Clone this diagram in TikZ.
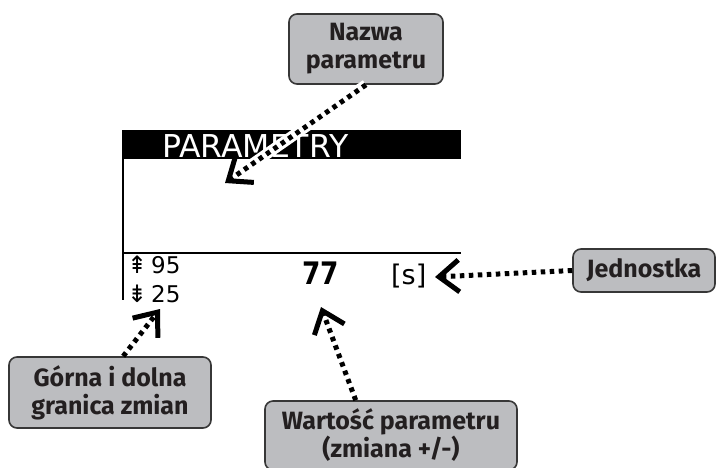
\documentclass[tikz,border=0pt]{standalone}
\usepackage{fontspec}
\setmainfont{Fira Sans}
\newfontfamily\lcdfont{DejaVu Sans}
\usetikzlibrary{arrows.meta}
\definecolor{boxgray}{RGB}{188,189,192}
\definecolor{boxline}{RGB}{55,55,55}
\definecolor{labeltext}{RGB}{35,31,32}

\begin{document}
\begin{tikzpicture}[x=1pt, y=-1pt,
 callout/.style={draw=boxline, fill=boxgray, line width=1.6pt, rounded corners=8pt,
  align=center, text=labeltext, inner sep=0pt, font=\fontsize{25}{28}\selectfont\bfseries},
 pointer/.style={line width=5pt, dash pattern=on 4.5pt off 4.5pt,
  -{Straight Barb[length=20pt, width=32pt, line width=5pt]}},
 halo/.style={preaction={draw=white, line width=11pt, solid, -}}] % ekran + opisy

\useasboundingbox (0,0) rectangle (725,467);
\clip (0,0) rectangle (725,467);

% ekran
\fill[black] (122,130) rectangle (461,159);
\draw[line width=2pt] (123,130) -- (123,300);
\draw[line width=2pt] (122,253) -- (461,253);
\node[anchor=base west, text=white, inner sep=0pt, font=\lcdfont\fontsize{31.5}{31.5}\selectfont]
 (title) at (162,157) {PARAMETRY};
\node[anchor=base west, inner sep=0pt, font=\lcdfont\fontsize{23}{23}\selectfont]
 (upper) at (127,273) {{\fontsize{24}{24}\selectfont ⇞}\,95};
\node[anchor=base west, inner sep=0pt, font=\lcdfont\fontsize{23}{23}\selectfont]
 (lower) at (127,302) {{\fontsize{24}{24}\selectfont ⇟}\,25};
\node[anchor=base west, inner sep=0pt, font=\lcdfont\fontsize{31}{31}\selectfont\bfseries]
 (val) at (302,284) {\scalebox{0.85}[1]{77}};
\node[anchor=base west, inner sep=0pt, font=\lcdfont\fontsize{27}{27}\selectfont]
 (unit) at (391,284) {[s]};

% opisy
\node[callout, minimum width=154pt, minimum height=70pt] (name) at (366,49) {Nazwa\\parametru};
\node[callout, minimum width=142pt, minimum height=43pt] (jedn) at (644,270.5) {Jednostka};
\node[callout, minimum width=202pt, minimum height=71pt] (limits) at (110,392.5) {Górna i dolna\\granica zmian};
\node[callout, minimum width=252pt, minimum height=69pt] (value) at (391,435.5) {Wartość parametru\\(zmiana +/-)};

\coordinate (nametip) at (225,183);
\coordinate (jedntip) at (435,277);
\coordinate (limtip) at (160,309);
\coordinate (valtip) at (321,307);

\draw[pointer, halo] (name.south) -- (nametip);
\draw[pointer] (jedn.west) -- (jedntip);
\draw[pointer] (limits.70) -- (limtip);
\draw[pointer] (value.135) -- (valtip);
\end{tikzpicture}
\end{document}
